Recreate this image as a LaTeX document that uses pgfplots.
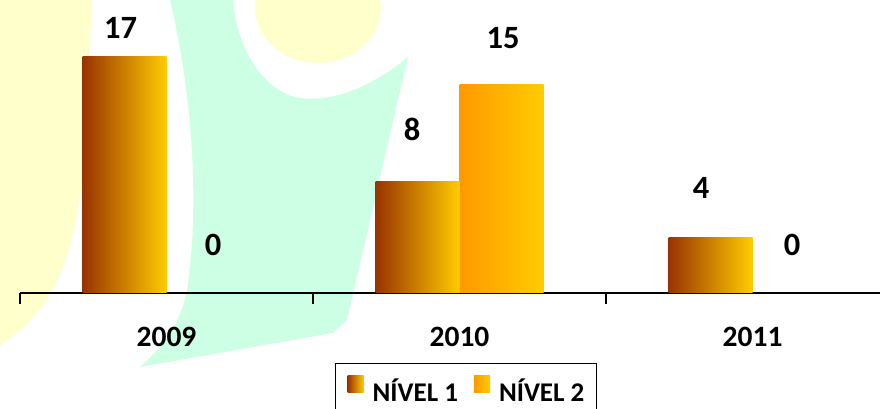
\documentclass[border=0pt]{standalone}
\usepackage{fontspec}
\setmainfont{Carlito}
\usepackage{pgfplots}
\usepackage{pgfplotstable}
\pgfplotsset{compat=1.18}
\definecolor{brownA}{HTML}{993300}
\definecolor{midA}{HTML}{E3A900}
\definecolor{yelA}{HTML}{FFCC00}
\definecolor{orB}{HTML}{FF9900}
\definecolor{mint}{HTML}{CCFFE4}
\definecolor{paley}{HTML}{FFFFCC}

% NIVEL 1: one table per bar (each bar shaded on its own)
\pgfplotstableread{
x y dy dx
0 17 29 -4
}\niveloneA
\pgfplotstableread{
x y dy dx
1 8 52 -5.5
}\niveloneB
\pgfplotstableread{
x y dy dx
2 4 49 -9.5
}\niveloneC
% NIVEL 2
\pgfplotstableread{
x y dy dx
1 15 46 1.5
}\niveltwo
\pgfplotstableread{
x y dy dx
0 0 48 4.5
2 0 48 -2.5
}\niveltwozero

\pgfplotsset{
  nivA/.style={ybar, bar shift=-42pt, draw=none, left color=brownA, middle color=midA, right color=yelA},
  nivB/.style={ybar, bar shift=42pt, draw=none, left color=orB, right color=yelA},
}

\begin{document}
\begin{tikzpicture}
\path[use as bounding box] (0,0) rectangle (880pt,409pt);
\clip (0,0) rectangle (880pt,409pt);
% background watermark
\begin{scope}[yshift=409pt, yscale=-1, x=1pt, y=1pt]
  \fill[paley] (0,0) -- (92,0) .. controls (86,100) and (92,220) .. (50,295)
     .. controls (35,320) and (15,335) .. (0,345) -- cycle;
  \fill[mint] (170,0) -- (233,0) .. controls (236,45) and (262,92) .. (300,98)
     .. controls (340,103) and (380,80) .. (408,57)
     -- (347,320) -- (333,333) -- (140,367)
     .. controls (165,345) and (180,325) .. (187,290)
     .. controls (198,220) and (196,110) .. (170,0) -- cycle;
  \fill[paley] (318,8) ellipse [x radius=63pt, y radius=55pt];
\end{scope}
\begin{axis}[
  at={(20pt,116pt)}, anchor=south west,
  scale only axis, width=860pt, height=293pt,
  xmin=-0.5, xmax=2.435, ymin=0, ymax=21.08,
  clip=false,
  axis x line*=bottom, axis y line=none,
  axis line style={line width=1.8pt, black, -},
  xtick={-0.5,0.5,1.5}, xticklabels={},
  xtick align=outside, major tick length=11pt,
  xtick style={line width=1.3pt, black},
  extra x ticks={0,1,2}, extra x tick labels={2009,2010,2011},
  extra x tick style={major tick length=0pt,
     xticklabel style={anchor=center, yshift=-44pt}},
  tick label style={font=\fontsize{29.5}{35}\selectfont\bfseries},
  /pgf/number format/assume math mode=true,
  ybar=0pt, bar width=84pt,
  visualization depends on={\thisrow{dy} \as \dy},
  visualization depends on={\thisrow{dx} \as \dx},
  nodes near coords,
  every node near coord/.append style={anchor=center, yshift=\dy pt, xshift=\dx pt,
     font=\fontsize{32.5}{39}\selectfont\bfseries, text=black},
  legend columns=2,
  legend style={at={(0.3663,-0.2389)}, anchor=north west, draw=black, line width=1.3pt,
    font=\fontsize{27}{32}\selectfont\bfseries, inner xsep=12pt, inner ysep=12pt,
    nodes={inner sep=0pt},
    /tikz/every odd column/.append style={column sep=9pt},
    /tikz/every even column/.append style={column sep=16pt}},
]
\addplot[nivA,
  legend image code/.code={\shade[left color=brownA, middle color=midA, right color=yelA] (0pt,-2pt) rectangle (16pt,15pt);}]
  table[x=x, y=y] {\niveloneA};
\addlegendentry{NÍVEL 1}
\addplot[nivB,
  legend image code/.code={\shade[left color=orB, right color=yelA] (0pt,-2pt) rectangle (16pt,15pt);}]
  table[x=x, y=y] {\niveltwo};
\addlegendentry{NÍVEL 2}
\addplot[nivA, forget plot] table[x=x, y=y] {\niveloneB};
\addplot[nivA, forget plot] table[x=x, y=y] {\niveloneC};
\addplot[ybar, bar shift=42pt, draw=none, fill=none, forget plot]
  table[x=x, y=y] {\niveltwozero};
\end{axis}
\end{tikzpicture}
\end{document}
